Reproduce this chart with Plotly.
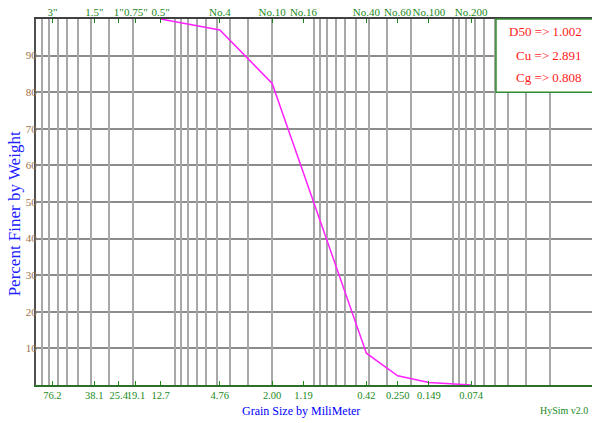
import plotly.graph_objects as go

# ---- data ----
grain_mm = [12.7, 4.76, 2.00, 1.19, 0.42, 0.25, 0.149, 0.074]
percent_finer = [100, 97, 82.4, 58, 8.7, 2.5, 0.7, 0]

sieve_mm = [76.2, 38.1, 25.4, 19.1, 12.7, 4.76, 2.00, 1.19, 0.42, 0.250, 0.149, 0.074]
mm_labels = ["76.2", "38.1", "25.4", "19.1", "12.7", "4.76", "2.00", "1.19", "0.42", "0.250", "0.149", "0.074"]
sieve_labels = ['3"', '1.5"', '1"', '0.75"', '0.5"', "No.4", "No.10", "No.16", "No.40", "No.60", "No.100", "No.200"]

y_ticks = [10, 20, 30, 40, 50, 60, 70, 80, 90]
grid_mm = [k * 10 ** n for n in (-2, -1, 0, 1) for k in range(1, 10)] + [100]

stats_text = ["D50 => 1.002", "Cu => 2.891", "Cg => 0.808"]

GREEN = "#1a8a1a"
SERIF = "Liberation Serif"

fig = go.Figure()
fig.add_trace(go.Scatter(x=grain_mm, y=percent_finer, mode="lines",
                         line=dict(color="#ff22ff", width=1.5),
                         xaxis="x", yaxis="y", showlegend=False, hoverinfo="skip"))
# invisible helpers for overlay axes
fig.add_trace(go.Scatter(x=[grain_mm[0]], y=[percent_finer[0]], mode="markers",
                         marker=dict(opacity=0), xaxis="x2", yaxis="y", showlegend=False, hoverinfo="skip"))
fig.add_trace(go.Scatter(x=[grain_mm[0]], y=[percent_finer[0]], mode="markers",
                         marker=dict(opacity=0), xaxis="x3", yaxis="y", showlegend=False, hoverinfo="skip"))

xr = [2, -2]
fig.update_layout(
    width=592, height=423,
    margin=dict(l=36, r=0, t=19, b=38),
    paper_bgcolor="white", plot_bgcolor="white",
    font=dict(family=SERIF),
    xaxis3=dict(type="log", range=xr, tickvals=grid_mm, showticklabels=False, ticks="",
                showgrid=True, gridcolor="#a8a8a8", gridwidth=1.6, zeroline=False,
                overlaying="x", anchor="y", side="bottom", showline=False),
    xaxis=dict(type="log", range=xr, tickvals=sieve_mm, ticktext=mm_labels, tickangle=0,
               ticks="inside", ticklen=4, tickwidth=1, tickcolor=GREEN,
               tickfont=dict(family=SERIF, size=10.5, color=GREEN),
               showgrid=False, zeroline=False, showline=True, linecolor="#2a6f2a", linewidth=2,
               anchor="y", side="bottom", ticklabelstandoff=-1),
    xaxis2=dict(type="log", range=xr, tickvals=sieve_mm, ticktext=sieve_labels, tickangle=0,
                ticks="inside", ticklen=4, tickwidth=1, tickcolor=GREEN,
                tickfont=dict(family=SERIF, size=11, color=GREEN),
                showgrid=False, zeroline=False, showline=True, linecolor="#404040", linewidth=2,
                overlaying="x", anchor="y", side="top", ticklabelstandoff=-3),
    yaxis=dict(range=[0, 100], tickvals=y_ticks, ticks="", showgrid=True,
               gridcolor="#8c8c8c", gridwidth=2, zeroline=False,
               showline=True, linecolor="#505050", linewidth=2,
               tickfont=dict(family=SERIF, size=11, color="#a0704a"),
               ticklabelstandoff=-5),
)

# stats box
fig.add_shape(type="rect", xref="paper", yref="paper", x0=0.8273, x1=1.002, y0=0.8, y1=1.0,
              fillcolor="white", line=dict(color="#2e8b2e", width=1.5), layer="above")
for txt, yy in zip(stats_text, [0.9645, 0.9016, 0.8388]):
    fig.add_annotation(xref="paper", yref="paper", x=0.9856, y=yy, text=txt, showarrow=False,
                       xanchor="right", yanchor="middle",
                       font=dict(family=SERIF, size=13, color="#ff1a1a"))

fig.add_annotation(xref="paper", yref="paper", x=0.4775, y=-0.071, text="Grain Size by MiliMeter",
                   showarrow=False, xanchor="center", yanchor="middle",
                   font=dict(family=SERIF, size=12, color="#0000ff"))
fig.add_annotation(xref="paper", yref="paper", x=-0.038, y=0.4686, text="Percent Finer by Weight",
                   showarrow=False, xanchor="center", yanchor="middle", textangle=-90,
                   font=dict(family=SERIF, size=17, color="#2020ff"))
fig.add_annotation(xref="paper", yref="paper", x=0.997, y=-0.071, text="HySim v2.0",
                   showarrow=False, xanchor="right", yanchor="middle",
                   font=dict(family=SERIF, size=10, color=GREEN))

fig.write_html("out.html")
